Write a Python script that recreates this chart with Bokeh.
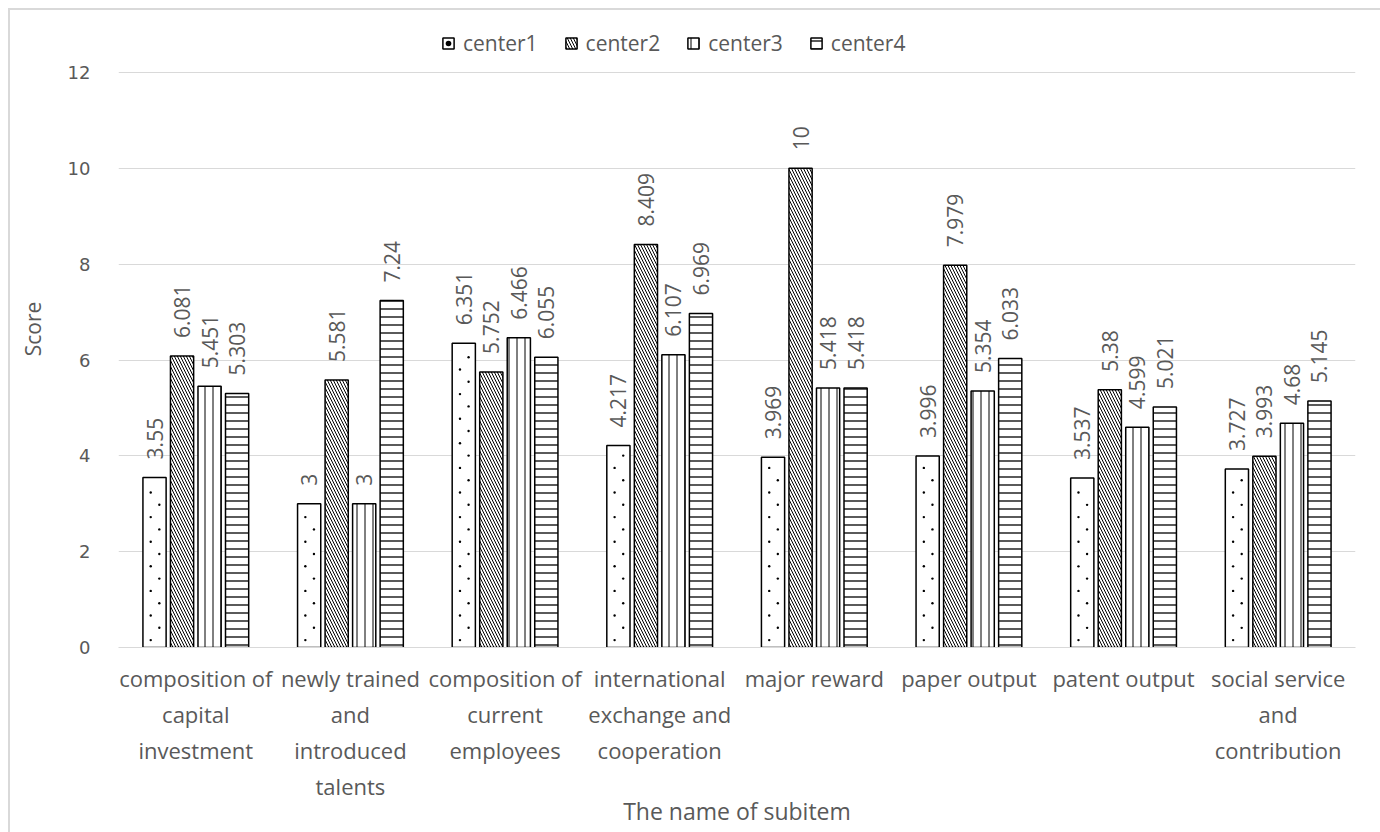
import numpy as np
from bokeh.plotting import figure
from bokeh.models import FixedTicker, Legend, LegendItem, ColumnDataSource
from bokeh.embed import file_html
from bokeh.resources import INLINE
from bokeh.core.properties import value

categories = [
    "composition of\ncapital\ninvestment",
    "newly trained\nand\nintroduced\ntalents",
    "composition of\ncurrent\nemployees",
    "international\nexchange and\ncooperation",
    "major reward",
    "paper output",
    "patent output",
    "social service\nand\ncontribution",
]
center1 = [3.55, 3, 6.351, 4.217, 3.969, 3.996, 3.537, 3.727]
center2 = [6.081, 5.581, 5.752, 8.409, 10, 7.979, 5.38, 3.993]
center3 = [5.451, 3, 6.466, 6.107, 5.418, 5.354, 4.599, 4.68]
center4 = [5.303, 7.24, 6.055, 6.969, 5.418, 6.033, 5.021, 5.145]
series_names = ["center1", "center2", "center3", "center4"]
y_ticks = [0, 2, 4, 6, 8, 10, 12]

series = [center1, center2, center3, center4]
FONT = "Open Sans"
GRAY = "#595959"

patterns = [None, "\\", "|", "-"]
scales = [12, 6, 8, 8]
weights = [1, 1, 1, 1.3]

# frame: top at canvas y=10, 12 at y=72, 0 at y=647
y_top = 12 * (647 - 10) / (647 - 72)
PX_Y = 575 / 12.0           # pixels per y unit
PX_X = (1380 - 118 - 25) / 8.0  # pixels per x unit

p = figure(width=1380, height=832, output_backend="svg", toolbar_location=None,
           x_range=(0, 8), y_range=(0, y_top),
           min_border_left=118, min_border_right=25, min_border_top=10, min_border_bottom=185)
p.outline_line_color = None
p.background_fill_color = "white"
p.border_fill_color = None
p.styles = {
    "background": "linear-gradient(#d9d9d9, #d9d9d9) 8px 8px / 2px 100% no-repeat, "
                  "linear-gradient(#d9d9d9, #d9d9d9) 8px 8px / 100% 2px no-repeat, white"
}

step = 0.178
width = 0.15
base_x = np.arange(len(categories)) + 0.5
items = []
for k, (name, vals) in enumerate(zip(series_names, series)):
    xs = base_x + (k - 1.5) * step
    src = ColumnDataSource(dict(x=xs, top=vals, lab=["%g" % v for v in vals]))
    kw = {}
    if patterns[k] is not None:
        kw = dict(hatch_pattern=patterns[k], hatch_color="black",
                  hatch_scale=scales[k], hatch_weight=weights[k])
    r = p.vbar(x="x", top="top", width=width, source=src, fill_color="white",
               line_color="black", line_width=1.5, **kw)
    renderers = [r]
    if patterns[k] is None:
        # sparse staggered dot texture inside each bar (derived from the bar heights)
        dx, dy = [], []
        for xc, v in zip(xs, vals):
            j = 0
            while (j + 0.6) * 12.3 < v * PX_Y - 5:
                col = -3.8 if j % 2 == 0 else 4.8
                dx.append(xc + col / PX_X)
                dy.append((j + 0.6) * 12.3 / PX_Y)
                j += 1
        d = p.scatter(x=dx, y=dy, marker="circle", size=2.4,
                      fill_color="black", line_color=None)
        renderers.append(d)
    p.text(x="x", y="top", text="lab", source=src, angle=np.pi / 2,
           text_align="left", text_baseline="middle", y_offset=-18,
           text_font=value(FONT), text_font_size="21px", text_color=GRAY)
    items.append(LegendItem(label=name, renderers=renderers))

legend = Legend(items=items, orientation="horizontal", location=(323, 590),
                label_text_font=FONT, label_text_font_size="21px", label_text_color=GRAY,
                glyph_width=14, glyph_height=14, spacing=26, padding=0, margin=0,
                border_line_color=None, background_fill_alpha=0, label_standoff=8)
p.add_layout(legend, "center")

# y axis
p.yaxis.ticker = FixedTicker(ticks=y_ticks)
p.yaxis.axis_line_color = None
p.yaxis.major_tick_line_color = None
p.yaxis.minor_tick_line_color = None
p.yaxis.major_label_text_font = "DejaVu Sans"
p.yaxis.major_label_text_font_size = "18px"
p.yaxis.major_label_text_color = GRAY
p.yaxis.major_label_standoff = 22
p.yaxis.axis_label = "Score"
p.yaxis.axis_label_text_font = FONT
p.yaxis.axis_label_text_font_size = "21px"
p.yaxis.axis_label_text_font_style = "normal"
p.yaxis.axis_label_text_color = GRAY
p.yaxis.axis_label_standoff = 18

p.ygrid.ticker = FixedTicker(ticks=y_ticks)
p.ygrid.grid_line_color = "#d9d9d9"
p.ygrid.grid_line_width = 1.2
p.xgrid.grid_line_color = None

# x axis with multi-line category labels
p.xaxis.ticker = FixedTicker(ticks=list(base_x))
p.xaxis.major_label_overrides = {float(x): c for x, c in zip(base_x, categories)}
p.xaxis.major_label_text_font = FONT
p.xaxis.major_label_text_font_size = "22px"
p.xaxis.major_label_text_color = GRAY
p.xaxis.major_label_text_line_height = 1.2
p.xaxis.major_label_standoff = 9
p.xaxis.axis_line_color = "#d9d9d9"
p.xaxis.axis_line_width = 1.2
p.xaxis.major_tick_line_color = None
p.xaxis.minor_tick_line_color = None
p.xaxis.axis_label = "The name of subitem"
p.xaxis.axis_label_text_font = FONT
p.xaxis.axis_label_text_font_size = "23px"
p.xaxis.axis_label_text_font_style = "normal"
p.xaxis.axis_label_text_color = GRAY
p.xaxis.axis_label_standoff = -9

open("out.html", "w").write(file_html(p, INLINE))
